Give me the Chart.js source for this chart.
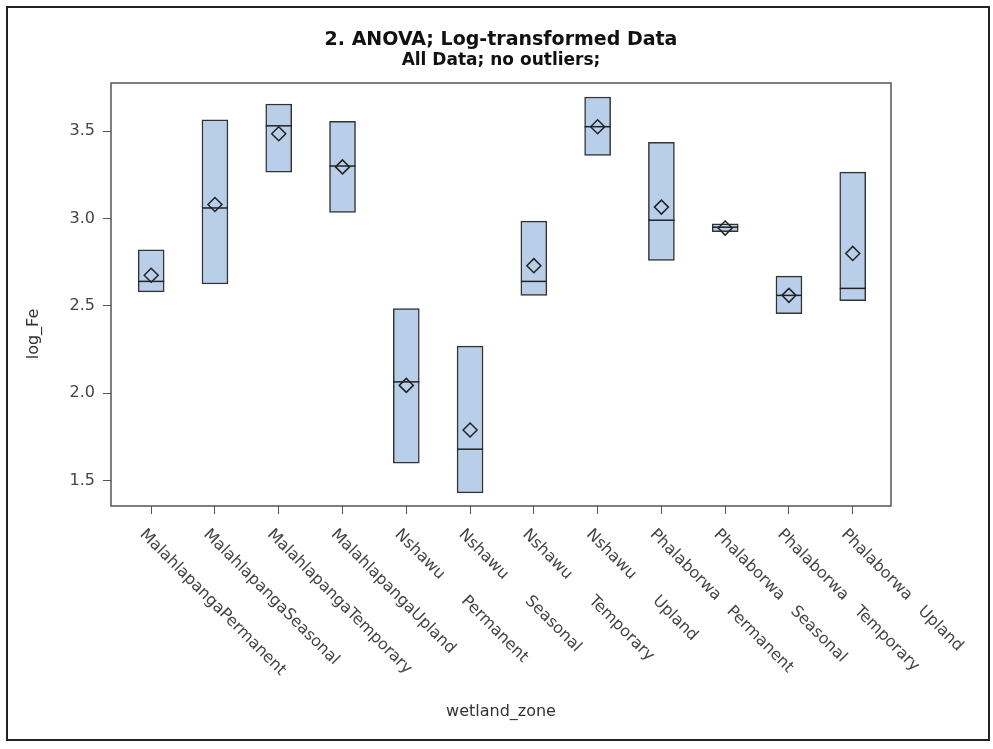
<!DOCTYPE html>
<html>
<head>
<meta charset="utf-8">
<title>log_Fe by wetland_zone</title>
<script src="https://cdn.jsdelivr.net/npm/chart.js@4.4.1/dist/chart.umd.min.js"></script>
<style>
html,body{margin:0;padding:0;background:#fff;}
</style>
</head>
<body>
<canvas id="chart" width="993" height="749"></canvas>
<script>
// wetland zones, one label per box (names padded with spaces as in the source)
const zones=[
  'MalahlapangaPermanent','MalahlapangaSeasonal','MalahlapangaTemporary','MalahlapangaUpland',
  'Nshawu      Permanent','Nshawu      Seasonal','Nshawu      Temporary','Nshawu      Upland',
  'Phalaborwa   Permanent','Phalaborwa   Seasonal','Phalaborwa   Temporary','Phalaborwa   Upland'
];
const boxLow =[2.58,2.625,3.265,3.035,1.60,1.43,2.56,3.36,2.76,2.925,2.455,2.53];
const boxHigh=[2.82,3.565,3.655,3.555,2.485,2.27,2.985,3.695,3.435,2.97,2.67,3.265];
const medians=[2.64,3.06,3.53,3.30,2.065,1.68,2.64,3.525,2.99,2.95,2.56,2.60];
const means  =[2.675,3.08,3.485,3.295,2.045,1.79,2.73,3.525,3.065,2.945,2.56,2.80];
const yTicks =[1.5,2.0,2.5,3.0,3.5];
const yTitle ='log_Fe';

const FONT='"DejaVu Sans", sans-serif';

const frameAndLabels={
  id:'frameAndLabels',
  beforeDraw(chart){
    const {ctx,width,height}=chart;
    ctx.save();
    ctx.fillStyle='#fff';
    ctx.fillRect(0,0,width,height);
    ctx.restore();
  },
  afterDraw(chart){
    const {ctx,chartArea:a}=chart;
    const xs=chart.scales.x;
    ctx.save();
    ctx.strokeStyle='#555';
    ctx.lineWidth=1.5;
    ctx.strokeRect(a.left,a.top,a.right-a.left,a.bottom-a.top);
    // rotated category labels, reading down to the right
    ctx.fillStyle='#444';
    ctx.font='16px '+FONT;
    ctx.textAlign='left';
    ctx.textBaseline='middle';
    zones.forEach((label,i)=>{
      ctx.save();
      ctx.translate(xs.getPixelForValue(i)-9,a.bottom+26);
      ctx.rotate(Math.PI/4);
      ctx.fillText(label,0,0);
      ctx.restore();
    });
    // y axis title sits a bit below the middle of the plot
    ctx.save();
    ctx.fillStyle='#333';
    ctx.textAlign='center';
    ctx.translate(34,334);
    ctx.rotate(-Math.PI/2);
    ctx.fillText(yTitle,0,0);
    ctx.restore();
    ctx.strokeStyle='#222';
    ctx.lineWidth=2;
    ctx.strokeRect(7,7,982,733);
    ctx.restore();
  }
};

new Chart(document.getElementById('chart'),{
  type:'bar',
  data:{
    datasets:[
      {
        type:'scatter',label:'Mean',order:1,
        data:means.map((v,i)=>({x:i,y:v})),
        pointStyle:'rectRot',pointRadius:7,
        backgroundColor:'rgba(0,0,0,0)',borderColor:'#222',borderWidth:1.5
      },
      {
        type:'scatter',label:'Median',order:2,
        data:medians.map((v,i)=>({x:i,y:v})),
        pointStyle:'line',pointRadius:13,
        borderColor:'#222',borderWidth:1.5
      },
      {
        type:'bar',label:'Box',order:3,
        data:boxLow.map((v,i)=>({x:i,y:[v,boxHigh[i]]})),
        backgroundColor:'#b9cfe9',borderColor:'#333',borderWidth:1.5,
        borderSkipped:false,barThickness:26
      }
    ]
  },
  options:{
    responsive:false,
    animation:false,
    events:[],
    layout:{padding:{left:0,right:102,top:0,bottom:0}},
    plugins:{
      legend:{display:false},
      tooltip:{enabled:false},
      title:{
        display:true,fullSize:false,text:'2. ANOVA; Log-transformed Data',color:'#111',
        font:{family:FONT,size:19,weight:'bold',lineHeight:1.2},
        padding:{top:29,bottom:0}
      },
      subtitle:{
        display:true,fullSize:false,text:'All Data; no outliers;',color:'#111',
        font:{family:FONT,size:17,weight:'bold',lineHeight:1.0},
        padding:{top:0,bottom:14.2}
      }
    },
    scales:{
      x:{
        type:'linear',min:-0.63,max:11.6,offset:false,
        afterBuildTicks:s=>{s.ticks=zones.map((z,i)=>({value:i}));},
        afterFit:s=>{s.height=243;},
        ticks:{display:false},
        grid:{offset:false,drawOnChartArea:false,drawTicks:true,tickLength:8,color:'#555'},
        border:{display:false},
        title:{display:true,text:'wetland_zone',color:'#333',font:{family:FONT,size:16},padding:{top:0,bottom:28}}
      },
      y:{
        min:1.355,max:3.775,
        afterBuildTicks:s=>{s.ticks=yTicks.map(v=>({value:v}));},
        afterFit:s=>{s.width=111;},
        ticks:{callback:v=>v.toFixed(1),color:'#444',font:{family:FONT,size:16},padding:8},
        grid:{drawOnChartArea:false,drawTicks:true,tickLength:8,color:'#555'},
        border:{display:false},
        title:{display:false}
      }
    }
  },
  plugins:[frameAndLabels]
});
</script>
</body>
</html>
